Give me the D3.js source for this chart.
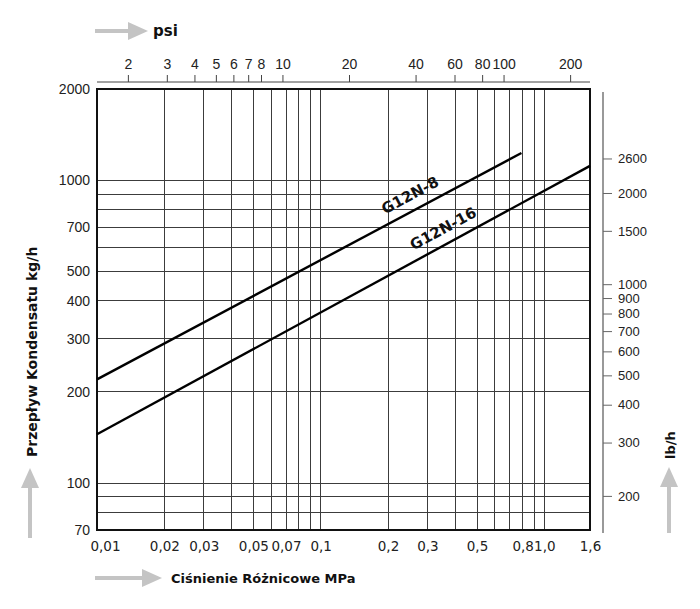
<!DOCTYPE html>
<html>
<head>
<meta charset="utf-8">
<script src="https://cdn.jsdelivr.net/npm/d3@7"></script>
<style>
  html, body { margin: 0; padding: 0; background: #fff; }
  svg { display: block; }
  .tick-narrow { font-family: "Liberation Sans Narrow", "Arial Narrow", "Liberation Sans", sans-serif; font-size: 14px; fill: #222; }
  .tick-mpa { font-family: "DejaVu Sans", Verdana, sans-serif; font-size: 13.5px; fill: #222; }
  .title { font-family: "DejaVu Sans", Verdana, sans-serif; font-weight: bold; font-size: 13px; fill: #111; }
</style>
</head>
<body>
<svg id="chart" width="700" height="609"></svg>
<script>
// ---------- data ----------
const mpaDomain = [0.01, 1.6];
const kgDomain = [70, 2000];
const mpaGrid = [0.02, 0.03, 0.04, 0.05, 0.06, 0.07, 0.08, 0.09, 0.1, 0.2, 0.3, 0.4, 0.5, 0.6, 0.7, 0.8, 0.9, 1.0];
const mpaTicks = [0.01, 0.02, 0.03, 0.05, 0.07, 0.1, 0.2, 0.3, 0.5, 0.8, 1.0, 1.6];
const mpaTickLabels = ["0,01", "0,02", "0,03", "0,05", "0,07", "0,1", "0,2", "0,3", "0,5", "0,8", "1,0", "1,6"];
const kgGrid = [80, 90, 100, 200, 300, 400, 500, 600, 700, 800, 900, 1000];
const kgTicks = [70, 100, 200, 300, 400, 500, 700, 1000, 2000];
const psiDomain = [1.45, 246];
const psiTicks = [2, 3, 4, 5, 6, 7, 8, 10, 20, 40, 60, 80, 100, 200];
const kgToLb = 2.2046;
const lbTicks = [200, 300, 400, 500, 600, 700, 800, 900, 1000, 1500, 2000, 2600];
const seriesNames = ["G12N-8", "G12N-16"];
const seriesMpa = [[0.01, 0.79], [0.01, 1.6]];
const seriesKg = [[220, 1230], [145, 1115]];
const labelAtMpa = [0.27, 0.38];

// ---------- layout ----------
const L = 97, R = 590, T = 89, B = 530;
const svg = d3.select("#chart");
const x = d3.scaleLog().domain(mpaDomain).range([L, R]);
const y = d3.scaleLog().domain(kgDomain).range([B, T]);
const xPsi = d3.scaleLog().domain(psiDomain).range([L, R]);
const yLb = d3.scaleLog().domain(kgDomain.map(d => d * kgToLb)).range([B, T]);

// grid
const grid = svg.append("g");
grid.selectAll("line.v").data(mpaGrid).join("line")
  .attr("x1", d => x(d)).attr("x2", d => x(d)).attr("y1", T).attr("y2", B)
  .attr("stroke", "#3c3c3c").attr("stroke-width", 1).attr("shape-rendering", "crispEdges");
grid.selectAll("line.h").data(kgGrid).join("line")
  .attr("y1", d => y(d)).attr("y2", d => y(d)).attr("x1", L).attr("x2", R)
  .attr("stroke", "#3c3c3c").attr("stroke-width", 1).attr("shape-rendering", "crispEdges");

// frame
svg.append("rect").attr("x", L).attr("y", T).attr("width", R - L).attr("height", B - T)
  .attr("fill", "none").attr("stroke", "#111").attr("stroke-width", 2);

// series lines
const line = d3.line().x(d => x(d[0])).y(d => y(d[1]));
seriesNames.forEach((name, i) => {
  const pts = seriesMpa[i].map((m, j) => [m, seriesKg[i][j]]);
  svg.append("path").attr("d", line(pts)).attr("fill", "none")
    .attr("stroke", "#000").attr("stroke-width", 2.4);
  const p0 = [x(pts[0][0]), y(pts[0][1])], p1 = [x(pts[1][0]), y(pts[1][1])];
  const ang = Math.atan2(p1[1] - p0[1], p1[0] - p0[0]) * 180 / Math.PI;
  const slope = Math.log(pts[1][1] / pts[0][1]) / Math.log(pts[1][0] / pts[0][0]);
  const m = labelAtMpa[i];
  const q = pts[0][1] * Math.pow(m / pts[0][0], slope);
  svg.append("text").attr("class", "title")
    .attr("transform", `translate(${x(m)},${y(q)}) rotate(${ang})`)
    .attr("y", -10).attr("text-anchor", "middle").style("font-size", "15px")
    .text(name);
});

// bottom axis (MPa)
const xAxis = d3.axisBottom(x).tickValues(mpaTicks).tickSize(0).tickPadding(0)
  .tickFormat((d, i) => mpaTickLabels[i]);
const gx = svg.append("g").attr("transform", `translate(0,${B})`).call(xAxis);
gx.select(".domain").remove();
gx.selectAll("text").attr("class", "tick-mpa").attr("dy", null).attr("y", 21)
  .attr("font-family", null).attr("font-size", null)
  .attr("dx", (d, i) => i === 0 ? 8 : 0);

// left axis (kg/h)
const yAxis = d3.axisLeft(y).tickValues(kgTicks).tickSize(0).tickPadding(7).tickFormat(d3.format("d"));
const gy = svg.append("g").attr("transform", `translate(${L},0)`).call(yAxis);
gy.select(".domain").remove();
gy.selectAll("text").attr("class", "tick-narrow").attr("font-family", null).attr("font-size", null);

// top axis (psi)
const psiAxis = d3.axisTop(xPsi).tickValues(psiTicks).tickSize(7).tickPadding(6).tickFormat(d3.format("d"));
const gt = svg.append("g").attr("transform", `translate(0,82)`).call(psiAxis);
gt.select(".domain").attr("d", `M${L},0H${R}`).attr("stroke", "#444");
gt.selectAll(".tick line").attr("stroke", "#444");
gt.selectAll("text").attr("class", "tick-narrow").attr("font-family", null).attr("font-size", null);

// right axis (lb/h)
const lbAxis = d3.axisRight(yLb).tickValues(lbTicks).tickSize(9).tickPadding(6).tickFormat(d3.format("d"));
const gr = svg.append("g").attr("transform", `translate(603,0)`).call(lbAxis);
gr.select(".domain").attr("d", "M0,92V533").attr("stroke", "#777").attr("stroke-width", 1.5);
gr.selectAll(".tick line").attr("stroke", "#666");
gr.selectAll("text").attr("class", "tick-narrow").attr("font-family", null).attr("font-size", null)
  .style("font-size", "13px");

// arrows
function arrow(x1, y1, x2, y2) {
  const ang = Math.atan2(y2 - y1, x2 - x1);
  const len = Math.hypot(x2 - x1, y2 - y1);
  const g = svg.append("g").attr("transform", `translate(${x1},${y1}) rotate(${ang * 180 / Math.PI})`);
  g.append("line").attr("x1", 0).attr("y1", 0).attr("x2", len - 18).attr("y2", 0)
    .attr("stroke", "#c4c4c4").attr("stroke-width", 4);
  g.append("path").attr("d", `M${len - 20},-9L${len},0L${len - 20},9Z`).attr("fill", "#c4c4c4");
}
arrow(95, 31, 148, 31);
arrow(95, 578, 162, 578);
arrow(30, 538, 30, 468);
arrow(669, 533, 669, 467);

// titles
svg.append("text").attr("class", "title").attr("x", 153).attr("y", 36).style("font-size", "15px").text("psi");
svg.append("text").attr("class", "title").attr("x", 171).attr("y", 583).text("Ciśnienie Różnicowe MPa");
svg.append("text").attr("class", "title").attr("transform", "translate(37,457) rotate(-90)").style("font-size", "14px").text("Przepływ Kondensatu kg/h");
svg.append("text").attr("class", "title").attr("transform", "translate(675,459) rotate(-90)").text("lb/h");
</script>
</body>
</html>
